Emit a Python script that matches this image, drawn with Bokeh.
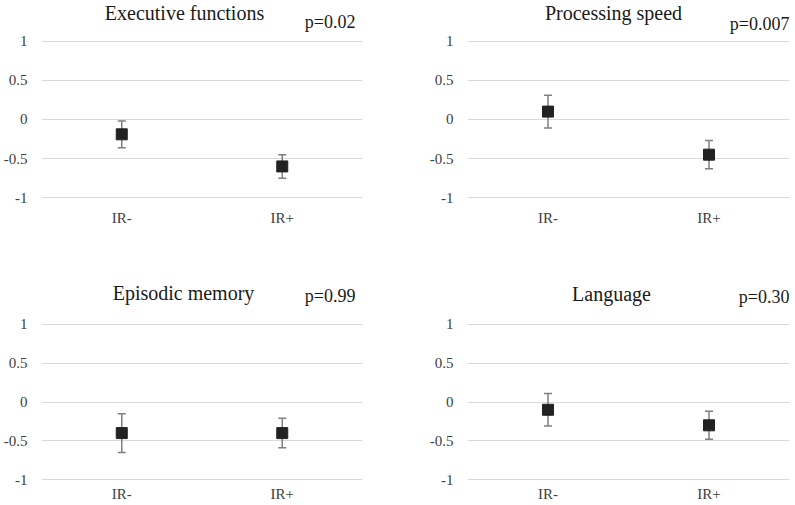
from bokeh.plotting import figure
from bokeh.layouts import gridplot
from bokeh.models import (ColumnDataSource, Range1d, FactorRange, FixedTicker,
                          Whisker, Label)
from bokeh.embed import file_html
from bokeh.resources import INLINE

# ---- data ----
groups = ["IR-", "IR+"]

titles = ["Executive functions", "Processing speed", "Episodic memory", "Language"]
p_values = ["p=0.02", "p=0.007", "p=0.99", "p=0.30"]

exec_mean = [-0.19, -0.60]
exec_err = [0.17, 0.15]
speed_mean = [0.10, -0.45]
speed_err = [0.21, 0.18]
memory_mean = [-0.40, -0.40]
memory_err = [0.25, 0.19]
lang_mean = [-0.10, -0.30]
lang_err = [0.21, 0.18]

tick_values = [-1, -0.5, 0, 0.5, 1]
tick_labels = ["-1", "-0.5", "0", "0.5", "1"]

FONT = "'Liberation Serif', 'Times New Roman', 'DejaVu Serif', serif"
Y_LO, Y_HI = -1.01, 1.01


def panel(title, pval, means, errs, width, height, bl, br, bb, data_h,
          x_standoff, title_dx, p_dx, title_dy, p_dy):
    src = ColumnDataSource(dict(
        g=groups, m=means,
        lo=[m - e for m, e in zip(means, errs)],
        hi=[m + e for m, e in zip(means, errs)],
    ))
    frame_h = height - bb
    # the frame reaches the top of the figure so the title texts sit inside it
    y_top = Y_LO + (Y_HI - Y_LO) * frame_h / data_h
    p = figure(width=width, height=height, x_range=FactorRange(*groups),
               y_range=Range1d(Y_LO, y_top), output_backend="svg",
               toolbar_location=None, min_border_left=bl, min_border_right=br,
               min_border_top=0, min_border_bottom=bb)
    p.outline_line_color = None
    p.background_fill_color = "white"
    p.border_fill_color = "white"
    p.xgrid.grid_line_color = None
    p.ygrid.grid_line_color = "#d9d9d9"
    p.ygrid.grid_line_width = 1
    p.yaxis.ticker = FixedTicker(ticks=tick_values)
    p.yaxis.major_label_overrides = dict(zip(tick_values, tick_labels))
    for ax in (p.xaxis[0], p.yaxis[0]):
        ax.axis_line_color = None
        ax.major_tick_line_color = None
        ax.minor_tick_line_color = None
        ax.major_tick_out = 0
        ax.major_tick_in = 0
        ax.minor_tick_out = 0
        ax.minor_tick_in = 0
        ax.axis_label_standoff = 0
        ax.major_label_text_font = FONT
        ax.major_label_text_font_size = "15px"
        ax.major_label_text_color = "#404040"
    p.yaxis.major_label_standoff = 14
    p.xaxis.major_label_standoff = x_standoff

    w = Whisker(source=src, base="g", lower="lo", upper="hi",
                line_color="#7f7f7f", line_width=1.5)
    w.upper_head.size = 8
    w.lower_head.size = 8
    w.upper_head.line_color = "#7f7f7f"
    w.lower_head.line_color = "#7f7f7f"
    w.upper_head.line_width = 1.5
    w.lower_head.line_width = 1.5
    p.add_layout(w)
    p.scatter("g", "m", source=src, marker="square", size=11,
              fill_color="#222222", line_color="#222222")

    p.add_layout(Label(x=title_dx, y=title_dy, x_units="screen",
                       y_units="screen", text=title, text_font=FONT,
                       text_font_size="20px", text_color="#1a1a1a",
                       text_align="center", text_baseline="alphabetic"))
    p.add_layout(Label(x=p_dx, y=p_dy, x_units="screen",
                       y_units="screen", text=pval, text_font=FONT,
                       text_font_size="18px", text_color="#1a1a1a",
                       text_align="right", text_baseline="alphabetic"))
    return p


p1 = panel(titles[0], p_values[0], exec_mean, exec_err, 397, 250,
           39, 35, 52, 158.1, 11, 143, 314, 186, 177)
p2 = panel(titles[1], p_values[1], speed_mean, speed_err, 397, 250,
           70, 5, 52, 158.1, 11, 146, 322, 186, 175)
p3 = panel(titles[2], p_values[2], memory_mean, memory_err, 397, 254,
           39, 35, 24, 157.0, 5, 142, 314, 188, 185)
p4 = panel(titles[3], p_values[3], lang_mean, lang_err, 397, 254,
           70, 5, 24, 157.0, 5, 144, 322, 187, 184)

grid = gridplot([[p1, p2], [p3, p4]], toolbar_location=None)

open("out.html", "w").write(file_html(grid, INLINE))
